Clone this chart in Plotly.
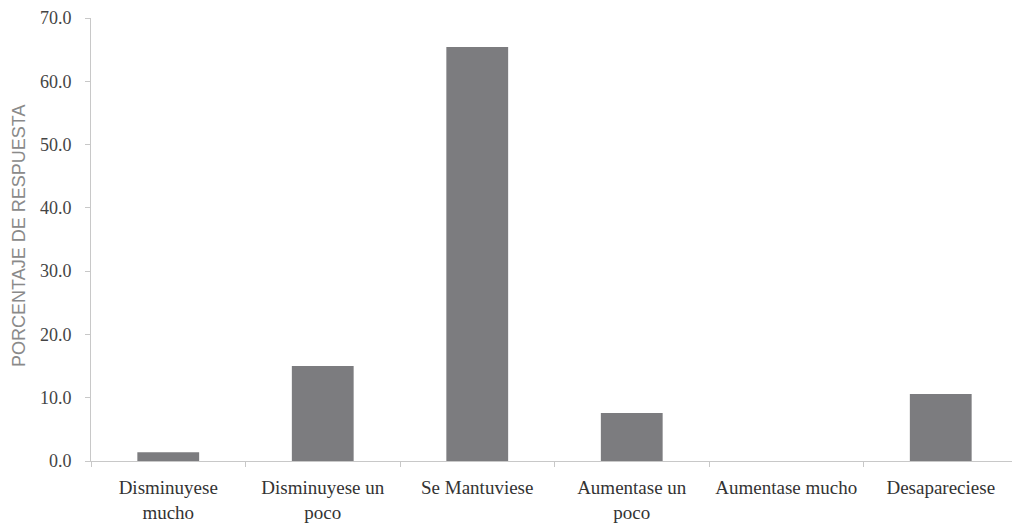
import plotly.graph_objects as go

categories = ["Disminuyese<br>mucho", "Disminuyese un<br>poco", "Se Mantuviese",
              "Aumentase un<br>poco", "Aumentase mucho", "Desapareciese"]
values = [1.4, 15.0, 65.4, 7.6, 0.0, 10.6]
y_ticks = [0, 10, 20, 30, 40, 50, 60, 70]
y_labels = ["0.0", "10.0", "20.0", "30.0", "40.0", "50.0", "60.0", "70.0"]
y_title = "PORCENTAJE DE RESPUESTA"

SERIF = "'Liberation Serif', 'Times New Roman', serif"

fig = go.Figure(go.Bar(
    x=categories, y=values, width=0.4,
    marker=dict(color="#7c7c7f", line=dict(width=0)),
))

fig.update_layout(
    width=1020, height=528,
    margin=dict(l=83, r=10, t=10, b=75, autoexpand=False),
    paper_bgcolor="white", plot_bgcolor="white",
    showlegend=False,
    font=dict(family=SERIF, size=19, color="#333333"),
)
fig.update_xaxes(
    automargin=False,
    showline=True, linecolor="#c8c8c8", linewidth=1,
    ticks="outside", tickson="boundaries", ticklen=5, tickcolor="#c8c8c8",
    ticklabelstandoff=9, ticklabeloverflow="allow",
    showgrid=False, tickfont=dict(family=SERIF, size=19, color="#333333"),
)
fig.update_yaxes(
    automargin=False,
    range=[0, 70], tickvals=y_ticks, ticktext=y_labels,
    showline=True, linecolor="#c8c8c8", linewidth=1,
    ticks="outside", ticklen=5, tickcolor="#c8c8c8",
    ticklabelstandoff=10, ticklabeloverflow="allow",
    showgrid=False, zeroline=False,
    tickfont=dict(family=SERIF, size=18, color="#444444"),
)
fig.add_annotation(
    text=y_title, xref="paper", yref="paper", x=-0.0777, y=0.508,
    xanchor="center", yanchor="middle", textangle=-90, showarrow=False,
    font=dict(family="'Liberation Sans', Arial, sans-serif", size=18, color="#8a8a8a"),
)

fig.write_html("out.html")
